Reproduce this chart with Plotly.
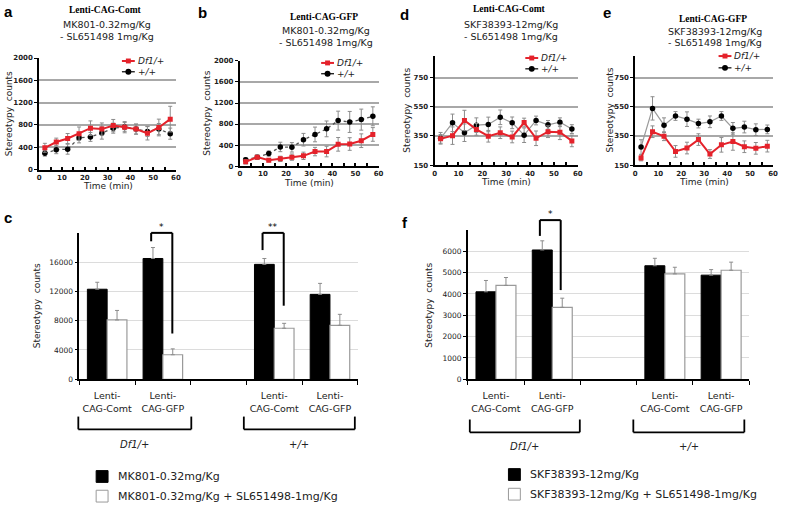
import plotly.graph_objects as go

W, H = 786, 509

# ---------------- data ----------------
time_min = [2.5, 7.5, 12.5, 17.5, 22.5, 27.5, 32.5, 37.5, 42.5, 47.5, 52.5, 57.5]

a_df1 = [390, 493, 556, 643, 742, 725, 788, 759, 725, 650, 754, 904]
a_df1_err = [80, 70, 90, 120, 130, 110, 110, 100, 90, 120, 150, 230]
a_wt = [290, 354, 365, 568, 585, 655, 742, 765, 725, 684, 725, 643]
a_wt_err = [50, 70, 90, 90, 80, 110, 90, 80, 90, 90, 100, 100]

b_df1 = [80, 170, 110, 138, 170, 195, 276, 276, 414, 420, 483, 602]
b_df1_err = [40, 40, 30, 50, 60, 70, 80, 100, 130, 120, 130, 130]
b_wt = [120, 170, 238, 364, 357, 502, 602, 708, 865, 840, 884, 947]
b_wt_err = [40, 40, 50, 90, 90, 120, 140, 150, 180, 200, 200, 180]

d_df1 = [330, 352, 456, 395, 348, 372, 343, 442, 334, 379, 375, 316]
d_df1_err = [30, 60, 70, 40, 40, 40, 40, 30, 50, 40, 50, 40]
d_wt = [334, 440, 372, 424, 429, 478, 440, 355, 456, 426, 444, 397]
d_wt_err = [40, 60, 60, 50, 50, 50, 40, 50, 30, 30, 30, 30]

e_df1 = [199, 379, 348, 244, 267, 325, 226, 289, 312, 276, 265, 280]
e_df1_err = [20, 40, 30, 40, 40, 40, 30, 50, 60, 40, 40, 40]
e_wt = [274, 539, 424, 487, 465, 435, 447, 487, 402, 411, 393, 395]
e_wt_err = [50, 80, 50, 30, 50, 30, 40, 30, 40, 40, 40, 30]

bar_slots = [0, 1, 3, 4]
bar_labels = ["Lenti-<br>CAG-Comt", "Lenti-<br>CAG-GFP", "Lenti-<br>CAG-Comt", "Lenti-<br>CAG-GFP"]

c_drug = [12300, 16500, 15700, 11600]
c_drug_err = [950, 1500, 800, 1500]
c_combo = [8100, 3350, 6970, 7370]
c_combo_err = [1300, 800, 670, 1500]

f_drug = [4100, 6060, 5320, 4880]
f_drug_err = [530, 430, 350, 260]
f_combo = [4400, 3370, 4940, 5110]
f_combo_err = [370, 430, 310, 380]

line_yticks_ab = [0, 400, 800, 1200, 1600, 2000]
line_yticks_de = [150, 350, 550, 750]
c_yticks = [0, 4000, 8000, 12000, 16000]
f_yticks = [0, 1000, 2000, 3000, 4000, 5000, 6000]

# ---------------- style / layout helpers ----------------
RED = "#e4222b"
SANS = "DejaVu Sans"
SERIF = "Liberation Serif"


def xp(px):
    return px / W


def yp(py):
    return 1 - py / H


# axis boxes in pixels: (left, right, top, bottom)
boxes = {
    "a": (37.5, 175.5, 55, 168.5),
    "b": (240, 380, 58, 165),
    "d": (436.5, 581, 52.7, 164),
    "e": (639, 778, 52.7, 164),
    "c": (78, 359, 233, 382),
    "f": (470, 754, 230, 382),
}
ranges = {
    "a": ([0, 60], [0, 2000]),
    "b": ([0, 60], [0, 2000]),
    "d": ([0, 60], [150, 900]),
    "e": ([0, 60], [150, 900]),
    "c": ([-0.5, 4.5], [0, 20000]),
    "f": ([-0.5, 4.5], [0, 7000]),
}
order = ["a", "b", "d", "e", "c", "f"]


def data_px(panel, xv=None, yv=None):
    l, r, t, b = boxes[panel]
    xr, yr = ranges[panel]
    out = []
    if xv is not None:
        out.append(l + (xv - xr[0]) / (xr[1] - xr[0]) * (r - l))
    if yv is not None:
        out.append(b - (yv - yr[0]) / (yr[1] - yr[0]) * (b - t))
    return out if len(out) > 1 else out[0]


fig = go.Figure()

line_sets = {
    "a": (a_df1, a_df1_err, a_wt, a_wt_err, "dot"),
    "b": (b_df1, b_df1_err, b_wt, b_wt_err, "dot"),
    "d": (d_df1, d_df1_err, d_wt, d_wt_err, "solid"),
    "e": (e_df1, e_df1_err, e_wt, e_wt_err, "solid"),
}

for i, p in enumerate(order):
    ax = "" if i == 0 else str(i + 1)
    if p in line_sets:
        df1, df1e, wt, wte, dash = line_sets[p]
        fig.add_trace(go.Scatter(
            x=time_min, y=wt, xaxis="x" + ax, yaxis="y" + ax, mode="lines+markers",
            line=dict(color="#9a9a9a" if dash == "solid" else "#555", width=1.2 if dash == "solid" else 1.3, dash=dash),
            marker=dict(symbol="circle", size=5.5, color="black"),
            error_y=dict(type="data", array=wte, color="#8c8c8c", thickness=1, width=2),
            showlegend=False))
        fig.add_trace(go.Scatter(
            x=time_min, y=df1, xaxis="x" + ax, yaxis="y" + ax, mode="lines+markers",
            line=dict(color=RED, width=2),
            marker=dict(symbol="square", size=5, color=RED),
            error_y=dict(type="data", array=df1e, color="#8c8c8c", thickness=1, width=2),
            showlegend=False))
    else:
        drug, druge, combo, comboe = (c_drug, c_drug_err, c_combo, c_combo_err) if p == "c" else \
            (f_drug, f_drug_err, f_combo, f_combo_err)
        fig.add_trace(go.Bar(
            x=bar_slots, y=drug, xaxis="x" + ax, yaxis="y" + ax,
            marker=dict(color="black", line=dict(color="black", width=1)),
            error_y=dict(type="data", array=druge, arrayminus=[0] * 4, color="#8c8c8c", thickness=1, width=2),
            showlegend=False))
        fig.add_trace(go.Bar(
            x=bar_slots, y=combo, xaxis="x" + ax, yaxis="y" + ax,
            marker=dict(color="white", line=dict(color="#9a9a9a", width=1.2)),
            error_y=dict(type="data", array=comboe, arrayminus=[0] * 4, color="#8c8c8c", thickness=1, width=2),
            showlegend=False))

line_tickfont = dict(family=SANS, size=7, color="#222", weight="bold")
bar_tickfont = dict(family=SANS, size=7.5, color="#222")
layout_axes = {}
for i, p in enumerate(order):
    ax = "" if i == 0 else str(i + 1)
    l, r, t, b = boxes[p]
    xr, yr = ranges[p]
    tf = line_tickfont if p in line_sets else bar_tickfont
    xa = dict(domain=[xp(l), xp(r)], range=xr, anchor="y" + ax, showline=True, linecolor="black",
              linewidth=2 if p in line_sets else 1.5, showgrid=False, zeroline=False, tickfont=tf,
              fixedrange=True, ticklabeloverflow="allow")
    ya = dict(domain=[yp(b), yp(t)], range=yr, anchor="x" + ax, showline=True, linecolor="black",
              linewidth=2 if p in line_sets else 1.5, zeroline=False, tickfont=tf, fixedrange=True,
              ticks="outside", ticklen=3, tickcolor="black", ticklabeloverflow="allow")
    if p in line_sets:
        xa.update(tickmode="array", tickvals=[0, 10, 20, 30, 40, 50, 60], ticks="inside", ticklen=3,
                  tickcolor="black", tickwidth=1.5,
                  minor=dict(tickmode="array", tickvals=[5, 15, 25, 35, 45, 55], ticks="inside", ticklen=3,
                             tickcolor="black", tickwidth=1.5))
        yt = line_yticks_ab if p in ("a", "b") else line_yticks_de
        ya.update(tickmode="array", tickvals=yt, ticktext=[str(v) for v in yt], showgrid=True,
                  gridcolor="#a8a8a8", gridwidth=1.5)
    else:
        xa.update(tickmode="array", tickvals=bar_slots, ticktext=bar_labels, ticks="",
                  tickfont=dict(family=SANS, size=9.5, color="#222"), ticklabelstandoff=7,
                  minor=dict(tickmode="array", tickvals=[-0.5, 0.5, 1.5, 2.5, 3.5, 4.5], ticks="outside",
                             ticklen=4, tickcolor="black", tickwidth=1))
        yt = c_yticks if p == "c" else f_yticks
        ya.update(tickmode="array", tickvals=yt, ticktext=[str(v) for v in yt], showgrid=True,
                  gridcolor="#dcdcdc", gridwidth=1)
    layout_axes["xaxis" + ax] = xa
    layout_axes["yaxis" + ax] = ya

annotations = []
shapes = []


def text(x, y, s, size=9, family=SANS, color="#222", xanchor="center", yanchor="middle", angle=0, **kw):
    annotations.append(dict(x=xp(x), y=yp(y), xref="paper", yref="paper", text=s, showarrow=False,
                            font=dict(family=family, size=size, color=color), xanchor=xanchor,
                            yanchor=yanchor, textangle=angle, borderpad=0, **kw))


def seg(x0, y0, x1, y1, color="black", width=1.5):
    shapes.append(dict(type="line", xref="paper", yref="paper", x0=xp(x0), y0=yp(y0), x1=xp(x1), y1=yp(y1),
                       line=dict(color=color, width=width)))


# panel letters
for s, x, y in [("a", 7, 8), ("b", 202, 9), ("d", 406, 11), ("e", 610, 9), ("c", 6, 217), ("f", 407, 222)]:
    text(x, y, "<b>%s</b>" % s, size=15, family="Liberation Sans", color="black")

# titles
titles = [
    ("a", 104, [6, 21, 33], "Lenti-CAG-Comt", "MK801-0.32mg/Kg", "- SL651498 1mg/Kg"),
    ("b", 325, [13, 27, 39], "Lenti-CAG-GFP", "MK801-0.32mg/Kg", "- SL651498 1mg/Kg"),
    ("d", 512, [5, 21, 33], "Lenti-CAG-Comt", "SKF38393-12mg/Kg", "- SL651498 1mg/Kg"),
    ("e", 717, [15, 28, 39], "Lenti-CAG-GFP", "SKF38393-12mg/Kg", "- SL651498 1mg/Kg"),
]
for p, cx, ys, t1, t2, t3 in titles:
    text(cx, ys[0], "<b>%s</b>" % t1, size=9.5, family=SERIF, color="black")
    text(cx + 2, ys[1], t2, size=9.5)
    text(cx + 2, ys[2], t3, size=9.5)

# axis titles for line panels
ytitle_off = {"a": 31, "b": 34, "d": 27.5, "e": 25.5}
for p in ["a", "b", "d", "e"]:
    l, r, t, b = boxes[p]
    text(l - ytitle_off[p], (t + b) / 2, "Stereotypy  counts", size=9, angle=-90)
    text((l + r) / 2, b + 17, "Time (min)", size=9)

# bar panel y titles
text(35, 307, "Stereotypy  counts", size=9, angle=-90)
text(430, 307, "Stereotypy  counts", size=9, angle=-90)

# in-plot legends for line panels (pixel positions)
leg_pos = {"a": (121, 58, 11), "b": (322, 60, 11), "d": (528, 55, 11), "e": (723, 53, 12)}
for p, (lx, ly, gap) in leg_pos.items():
    seg(lx, ly, lx + 13, ly, color=RED, width=2)
    shapes.append(dict(type="rect", xref="paper", yref="paper", x0=xp(lx + 4), x1=xp(lx + 9),
                       y0=yp(ly + 2.5), y1=yp(ly - 2.5), fillcolor=RED, line=dict(width=0)))
    text(lx + 15, ly, "<i>Df1/+</i>", size=9, xanchor="left")
    ly2 = ly + gap
    seg(lx, ly2, lx + 13, ly2, color="black", width=1.2)
    shapes.append(dict(type="circle", xref="paper", yref="paper", x0=xp(lx + 3.5), x1=xp(lx + 9.5),
                       y0=yp(ly2 + 3), y1=yp(ly2 - 3), fillcolor="black", line=dict(width=0)))
    text(lx + 15, ly2, "<i>+/+</i>", size=9, xanchor="left")


# significance brackets (data units converted to pixels)
def sig_bracket(panel, slot, x_off_l, x_off_r, y_top, y_left, y_right, label, top_px=None):
    xl = data_px(panel, xv=slot + x_off_l)
    xr = data_px(panel, xv=slot + x_off_r)
    yt = top_px if top_px is not None else data_px(panel, yv=y_top)
    seg(xl, data_px(panel, yv=y_left), xl, yt, width=2)
    seg(xl, yt, xr, yt, width=2)
    seg(xr, yt, xr, data_px(panel, yv=y_right), width=2)
    text((xl + xr) / 2, yt - 6, label, size=9, color="black")


sig_bracket("c", 1, -0.21, 0.17, 20000, 18850, 6250, "*")
sig_bracket("c", 3, -0.21, 0.17, 20000, 17650, 10050, "**")
sig_bracket("f", 1, -0.22, 0.15, 7480, 6720, 4180, "*", top_px=220)


# group brackets below bar charts
def group_bracket(x0, x1, y0, y1, label, ly):
    seg(x0, y0, x0, y1, width=1.8)
    seg(x0, y1, x1, y1, width=1.8)
    seg(x1, y1, x1, y0, width=1.8)
    text((x0 + x1) / 2, ly, label, size=10)


group_bracket(77, 191, 420, 433, "<i>Df1/+</i>", 448)
group_bracket(244, 356, 420, 433, "<i>+/+</i>", 448)
group_bracket(472, 583, 423, 436, "<i>Df1/+</i>", 450)
group_bracket(637, 749, 423, 436, "<i>+/+</i>", 450)


# bottom legends
def legend_box(x, y, fill, border):
    shapes.append(dict(type="rect", xref="paper", yref="paper", x0=xp(x), x1=xp(x + 12), y0=yp(y + 6),
                       y1=yp(y - 6), fillcolor=fill, line=dict(color=border, width=1)))


legend_box(95, 481, "black", "black")
text(116, 481, "MK801-0.32mg/Kg", size=11, xanchor="left")
legend_box(95, 501, "white", "#9a9a9a")
text(116, 501, "MK801-0.32mg/Kg + SL651498-1mg/Kg", size=11, xanchor="left")
legend_box(511, 479, "black", "black")
text(532, 479, "SKF38393-12mg/Kg", size=11, xanchor="left")
legend_box(511, 499, "white", "#9a9a9a")
text(532, 499, "SKF38393-12mg/Kg + SL651498-1mg/Kg", size=11, xanchor="left")

fig.update_layout(
    width=W, height=H, margin=dict(l=0, r=0, t=0, b=0), paper_bgcolor="white", plot_bgcolor="white",
    barmode="group", bargap=0.29, bargroupgap=0, showlegend=False,
    annotations=annotations, shapes=shapes, font=dict(family=SANS), **layout_axes)

fig.write_html("out.html", config={"displayModeBar": False},
               post_script="document.body.style.margin='0';document.body.style.overflow='hidden';")
